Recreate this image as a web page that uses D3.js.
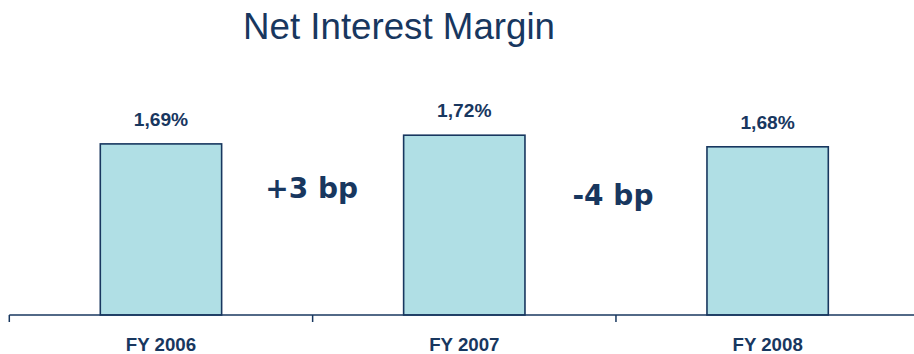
<!DOCTYPE html>
<html>
<head>
<meta charset="utf-8">
<script src="https://cdn.jsdelivr.net/npm/d3@7"></script>
<style>
  html, body { margin: 0; padding: 0; background: #ffffff; }
  svg { display: block; }
</style>
</head>
<body>
<svg id="chart" width="914" height="354"></svg>
<script>
// Net interest margin per fiscal year (percent)
const categories = ["FY 2006", "FY 2007", "FY 2008"];
const marginValues = [1.69, 1.72, 1.68];
const valueLabels = ["1,69%", "1,72%", "1,68%"];
// Year-over-year changes, placed between neighbouring bars
const changeLabels = ["+3 bp", "-4 bp"];

const navy = "#18375f";
const barFill = "#b0dfe5";

const svg = d3.select("#chart");

const x = d3.scaleBand()
  .domain(categories)
  .range([9.3, 919.3])
  .padding(0);

const y = d3.scaleLinear()
  .domain([1.1, 1.8])
  .range([315, 112]);

const barWidth = x.bandwidth() * 0.4;

// Title
svg.append("text")
  .attr("x", 399)
  .attr("y", 38.5)
  .attr("text-anchor", "middle")
  .attr("font-family", "'Liberation Sans', Arial, sans-serif")
  .attr("font-size", 36.7)
  .attr("fill", navy)
  .text("Net Interest Margin");

// Bars
svg.append("g")
  .selectAll("rect")
  .data(marginValues)
  .join("rect")
  .attr("x", (d, i) => x(categories[i]) + (x.bandwidth() - barWidth) / 2)
  .attr("y", d => y(d))
  .attr("width", barWidth)
  .attr("height", d => y.range()[0] - y(d))
  .attr("fill", barFill)
  .attr("stroke", navy)
  .attr("stroke-width", 1.6);

// Value labels above bars
svg.append("g")
  .selectAll("text")
  .data(marginValues)
  .join("text")
  .attr("x", (d, i) => x(categories[i]) + x.bandwidth() / 2)
  .attr("y", d => y(d) - 18)
  .attr("text-anchor", "middle")
  .attr("font-family", "'Liberation Sans', Arial, sans-serif")
  .attr("font-weight", "bold")
  .attr("font-size", 19.2)
  .attr("fill", navy)
  .text((d, i) => valueLabels[i]);

// Change annotations between bars
svg.append("g")
  .selectAll("text")
  .data(changeLabels)
  .join("text")
  .attr("x", (d, i) => x(categories[i + 1]) + (i === 0 ? -1 : -3))
  .attr("y", (d, i) => i === 0 ? 197.7 : 205.3)
  .attr("text-anchor", "middle")
  .attr("font-family", "'DejaVu Sans', Verdana, sans-serif")
  .attr("font-weight", "bold")
  .attr("font-size", 28)
  .attr("fill", navy)
  .text(d => d);

// Category axis
const axis = svg.append("g")
  .attr("transform", `translate(0,${y.range()[0]})`)
  .call(d3.axisBottom(x).tickSize(0).tickPadding(0));

axis.select(".domain")
  .attr("d", `M${x.range()[0]},0H${x.range()[1]}`)
  .attr("stroke", navy)
  .attr("stroke-width", 1.5);

axis.selectAll(".tick text")
  .attr("y", 35.7)
  .attr("dy", null)
  .attr("font-family", "'Liberation Sans', Arial, sans-serif")
  .attr("font-weight", "bold")
  .attr("font-size", 18.7)
  .attr("fill", navy);

// Tick marks at category boundaries
const boundaries = categories.map(c => x(c)).concat([x(categories[categories.length - 1]) + x.step()]);
axis.append("g")
  .selectAll("line")
  .data(boundaries)
  .join("line")
  .attr("x1", d => d)
  .attr("x2", d => d)
  .attr("y1", 0)
  .attr("y2", 7)
  .attr("stroke", navy)
  .attr("stroke-width", 1.5);
</script>
</body>
</html>
